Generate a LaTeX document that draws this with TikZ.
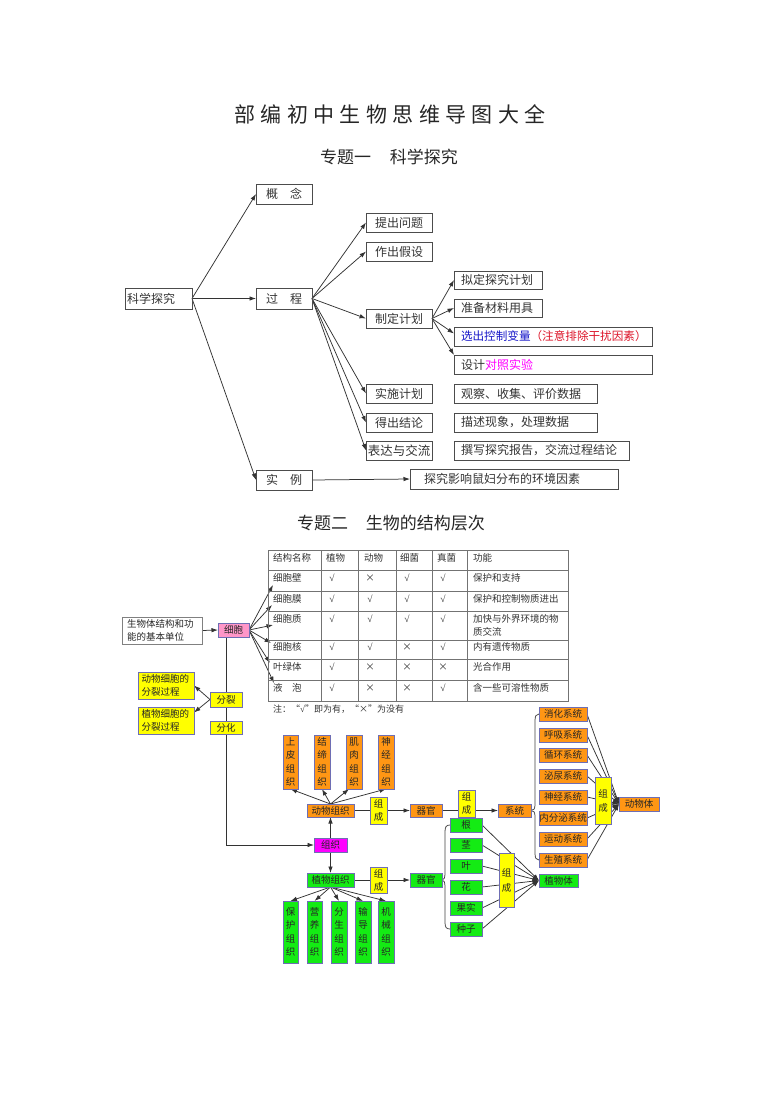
\documentclass[tikz,border=0pt]{standalone}
\usepackage{fontspec}
\setmainfont{Noto Sans CJK SC}
\newfontfamily\ckf{Liberation Serif}
\usetikzlibrary{arrows.meta,calc}
\definecolor{og}{RGB}{255,150,20}
\definecolor{gn}{RGB}{20,235,20}
\definecolor{yl}{RGB}{255,255,0}
\definecolor{bd}{RGB}{110,110,180}
\definecolor{pk}{RGB}{255,150,200}
\definecolor{mg}{RGB}{255,0,255}
\definecolor{bl}{RGB}{20,20,200}
\definecolor{rd}{RGB}{220,20,40}
\pgfdeclarelayer{bg}
\pgfsetlayers{bg,main}
\newcommand\ck{{\ckf √}}
\newcommand\bx[7]{%
 \pgfmathsetmacro\bxw{#4-#2}\pgfmathsetmacro\bxh{#5-#3}%
 \pgfmathsetmacro\bxx{(#2+#4)/2}\pgfmathsetmacro\bxy{(#3+#5)/2}%
 \node[#6, minimum width=\bxw pt, minimum height=\bxh pt] (#1) at (\bxx,\bxy) {#7};}
\newcommand\lbx[8]{%
 \pgfmathsetmacro\bxh{#5-#3}\pgfmathsetmacro\bxt{#4-#2-2*#7}%
 \pgfmathsetmacro\bxx{(#2+#4)/2}\pgfmathsetmacro\bxy{(#3+#5)/2}%
 \node[#6, inner xsep=#7pt, text width=\bxt pt, align=left, minimum height=\bxh pt] (#1) at (\bxx,\bxy) {#8};}
\begin{document}
\begin{tikzpicture}[x=1pt,y=-1pt,
 tb/.style={draw=black!70, line width=0.9pt, inner sep=0pt, outer sep=0pt, font=\fontsize{12}{14}\selectfont, text=black!80},
 cb/.style={draw=bd, line width=0.9pt, inner sep=0pt, outer sep=0pt, font=\fontsize{9.5}{13}\selectfont, text=black!85, align=center},
 yb/.style={cb,fill=yl}, ob/.style={cb,fill=og}, gb/.style={cb,fill=gn},
 vt/.style={font=\fontsize{9.5}{13.5}\selectfont},
 ar/.style={draw=black!80, line width=0.75pt, -{Latex[length=6.5pt,width=4.5pt]}},
 ln/.style={draw=black!75, line width=0.75pt},
 tabl/.style={draw=black!55, line width=0.8pt},
 tt/.style={font=\fontsize{9.5}{13}\selectfont, text=black!80, inner sep=0pt, anchor=west},
 tc/.style={tt, anchor=center},
]
\useasboundingbox (0,0) rectangle (780,1103);
% titles
\node[font=\fontsize{21}{24}\selectfont, text=black!85] (t0) at (390,114) {部\hspace{5.4pt}编\hspace{5.4pt}初\hspace{5.4pt}中\hspace{5.4pt}生\hspace{5.4pt}物\hspace{5.4pt}思\hspace{5.4pt}维\hspace{5.4pt}导\hspace{5.4pt}图\hspace{5.4pt}大\hspace{5.4pt}全};
\node[font=\fontsize{17}{20}\selectfont, text=black!85] (t1) at (389,157) {专题一\hspace{19pt}科学探究};
\node[font=\fontsize{17}{20}\selectfont, text=black!85] (t2) at (391,523) {专题二\hspace{18pt}生物的结构层次};
% ---- part one
\lbx{kx}{125}{288}{192}{309}{tb}{2}{科学探究}
\bx{gn}{256}{184}{312}{204}{tb}{概　念}
\bx{gc}{256}{288}{312}{309}{tb}{过　程}
\bx{sl}{256}{470}{312}{490}{tb}{实　例}
\bx{p1}{366}{213}{432}{232}{tb}{提出问题}
\bx{p2}{366}{242}{432}{261}{tb}{作出假设}
\bx{p3}{366}{309}{432}{328}{tb}{制定计划}
\bx{p4}{366}{384}{432}{403}{tb}{实施计划}
\bx{p5}{366}{413}{432}{432}{tb}{得出结论}
\bx{p6}{366}{441}{432}{460}{tb,font=\fontsize{12.5}{14}\selectfont}{表达与交流}
\lbx{q1}{454}{271}{542}{289}{tb}{7}{拟定探究计划}
\lbx{q2}{454}{299}{542}{317}{tb}{7}{准备材料用具}
\lbx{q3}{454}{327}{652}{346}{tb,font=\fontsize{11.6}{14}\selectfont}{7}{{\color{bl}选出控制变量}{\color{rd}（注意排除干扰因素）}}
\lbx{q4}{454}{355}{652}{374}{tb}{7}{设计{\color{mg}对照实验}}
\lbx{r4}{454}{384}{597}{403}{tb}{7}{观察、收集、评价数据}
\lbx{r5}{454}{413}{597}{432}{tb}{7}{描述现象，处理数据}
\lbx{r6}{454}{441}{629}{460}{tb}{7}{撰写探究报告，交流过程结论}
\lbx{se}{410}{469}{618}{489}{tb}{14}{探究影响鼠妇分布的环境因素}
% ---- table
\draw[tabl] (268,550) rectangle (568,701);
\foreach \x in {321,358,396,432,467} \draw[tabl] (\x,550) -- (\x,701);
\foreach \y in {570,591,611,640,659,680} \draw[tabl] (268,\y) -- (568,\y);
\foreach \t/\x [count=\i] in {结构名称/273,植物/326,动物/364,细菌/400,真菌/437,功能/473}
  \node[tt] (h\i) at (\x,558) {\t};
\foreach \n/\a/\b/\c/\d/\f/\y [count=\i] in {细胞壁/\ck/×/\ck/\ck/保护和支持/578,
  细胞膜/\ck/\ck/\ck/\ck/保护和控制物质进出/599,
  细胞质/\ck/\ck/\ck/\ck/加快与外界环境的物/619,
  细胞核/\ck/\ck/×/\ck/内有遗传物质/647,
  叶绿体/\ck/×/×/×/光合作用/667,
  液　泡/\ck/×/×/\ck/含一些可溶性物质/688}{
  \node[tt] (ra\i) at (273,\y) {\n};
  \node[tc] (rb\i) at (332,\y) {\a};
  \node[tc] (rc\i) at (370,\y) {\b};
  \node[tc] (rd\i) at (407,\y) {\c};
  \node[tc] (re\i) at (443,\y) {\d};
  \node[tt] (rf\i) at (473,\y) {\f};
}
\node[tt] (rg3) at (473,632) {质交流};
\node[tt,font=\fontsize{9}{11}\selectfont] (note) at (273,709) {注：“\ck”即为有，“×”为没有};
\coordinate (c1) at (273,585);
\coordinate (c2) at (272,605);
\coordinate (c3) at (273,625);
\coordinate (c4) at (271,643);
\coordinate (c5) at (270,663);
\coordinate (c6) at (274,683);
% ---- part two boxes
\bx{ct}{218}{623}{249}{637}{cb,fill=pk}{细胞}
\lbx{un}{122}{617}{202}{644}{cb,draw=black!50}{5}{生物体结构和功\\能的基本单位}
\lbx{dz}{138}{672}{194}{699}{yb}{3.5}{动物细胞的\\分裂过程}
\lbx{zz}{138}{707}{194}{734}{yb}{3.5}{植物细胞的\\分裂过程}
\bx{fl}{210}{692}{242}{707}{yb}{分裂}
\bx{fh}{210}{721}{242}{734}{yb}{分化}
\bx{zo}{314}{838}{347}{852}{cb,fill=mg}{组织}
\bx{sp}{283}{735}{298}{789}{ob,vt}{上\\皮\\组\\织}
\bx{jd}{314}{735}{330}{789}{ob,vt}{结\\缔\\组\\织}
\bx{jr}{346}{735}{362}{789}{ob,vt}{肌\\肉\\组\\织}
\bx{sj}{378}{735}{394}{789}{ob,vt}{神\\经\\组\\织}
\bx{dwz}{307}{804}{354}{817}{ob}{动物组织}
\bx{y1}{370}{797}{387}{824}{yb}{组\\成}
\bx{dqg}{410}{804}{442}{817}{ob}{器官}
\bx{y2}{458}{790}{475}{817}{yb}{组\\成}
\bx{xt}{498}{804}{531}{817}{ob}{系统}
\foreach \t/\a/\b [count=\i] in {消化系统/707/721,呼吸系统/728/742,循环系统/748/762,泌尿系统/769/783,神经系统/790/804,内分泌系统/811/825,运动系统/832/846,生殖系统/853/867}
  {\bx{s\i}{539}{\a}{587}{\b}{ob}{\t}}
\bx{y3}{595}{777}{611}{824}{yb,font=\fontsize{9.5}{14}\selectfont}{组\\成}
\bx{dwt}{619}{797}{659}{811}{ob}{动物体}
\bx{zwz}{307}{873}{354}{887}{gb}{植物组织}
\bx{y4}{370}{867}{387}{893}{yb}{组\\成}
\bx{zqg}{410}{873}{442}{887}{gb}{器官}
\foreach \t/\a/\b [count=\i] in {根/818/832,茎/838/852,叶/859/873,花/880/894,果实/901/915,种子/922/936}
  {\bx{o\i}{450}{\a}{482}{\b}{gb}{\t}}
\bx{y5}{499}{853}{514}{907}{yb,font=\fontsize{9.5}{15}\selectfont}{组\\成}
\bx{zwt}{539}{874}{578}{887}{gb}{植物体}
\foreach \t/\a/\b [count=\i] in {保\\护\\组\\织/283/298,营\\养\\组\\织/307/322,分\\生\\组\\织/331/347,输\\导\\组\\织/355/371,机\\械\\组\\织/378/394}
  {\bx{g\i}{\a}{901}{\b}{963}{gb,vt}{\t}}
% ---- connectors
\begin{pgfonlayer}{bg}
\draw[ar] (kx.east) -- (gn.west);
\draw[ar] (kx.east) -- (gc.west);
\draw[ar] (kx.east) -- (sl.west);
\foreach \i in {1,...,6} \draw[ar] (gc.east) -- (p\i.west);
\draw[ar] (p3.east) -- (q1.west);
\draw[ar] (p3.east) -- (q2.west);
\draw[ar] (p3.east) -- ([yshift=3pt]q3.west);
\draw[ar] (p3.east) -- (q4.north west);
\draw[ar] (sl.east) -- (se.west);
\draw[ar] (un.east) -- (ct.west);
\foreach \i in {1,...,6} \draw[ar] (ct.east) -- (c\i);
\draw[ar] ([xshift=-7.5pt]ct.south) |- (zo.west);
\draw[ar] (fl.west) -- (dz.east);
\draw[ar] (fl.west) -- ([yshift=8pt]zz.east);
\draw[ar] (zo.north) -- (dwz.south);
\draw[ar] (zo.south) -- (zwz.north);
\foreach \n in {sp,jd,sj} \draw[ar] (dwz.north) -- (\n.south);
\draw[ar] (dwz.north) -- ([xshift=-5pt]jr.south);
\foreach \i in {1,...,5} \draw[ar] (zwz.south) -- (g\i.north);
\draw[ar] (dwz.east) -- (dqg.west);
\draw[ar] (dqg.east) -- (xt.west);
\draw[ar] (zwz.east) -- (zqg.west);
\draw[ln] (s1.west) .. controls (536,714) and (535,716) .. (535,721) -- (535,804) .. controls (535,809) and (534,810.5) .. (xt.east);
\draw[ln] (xt.east) .. controls (534,810.5) and (535,812) .. (535,817) -- (535,853) .. controls (535,858) and (536,860) .. (s8.west);
\draw[ln] (o1.west) .. controls (446,825) and (445,827) .. (445,832) -- (445,873) .. controls (445,878) and (444,880) .. (zqg.east);
\draw[ln] (zqg.east) .. controls (444,880) and (445,882) .. (445,887) -- (445,922) .. controls (445,927) and (446,929) .. (o6.west);
\foreach \i in {1,...,6} \draw[ar] (o\i.east) -- (zwt.west);
\foreach \i in {1,...,8} \draw[ar] (s\i.east) -- (dwt.west);
\end{pgfonlayer}
\end{tikzpicture}
\end{document}
